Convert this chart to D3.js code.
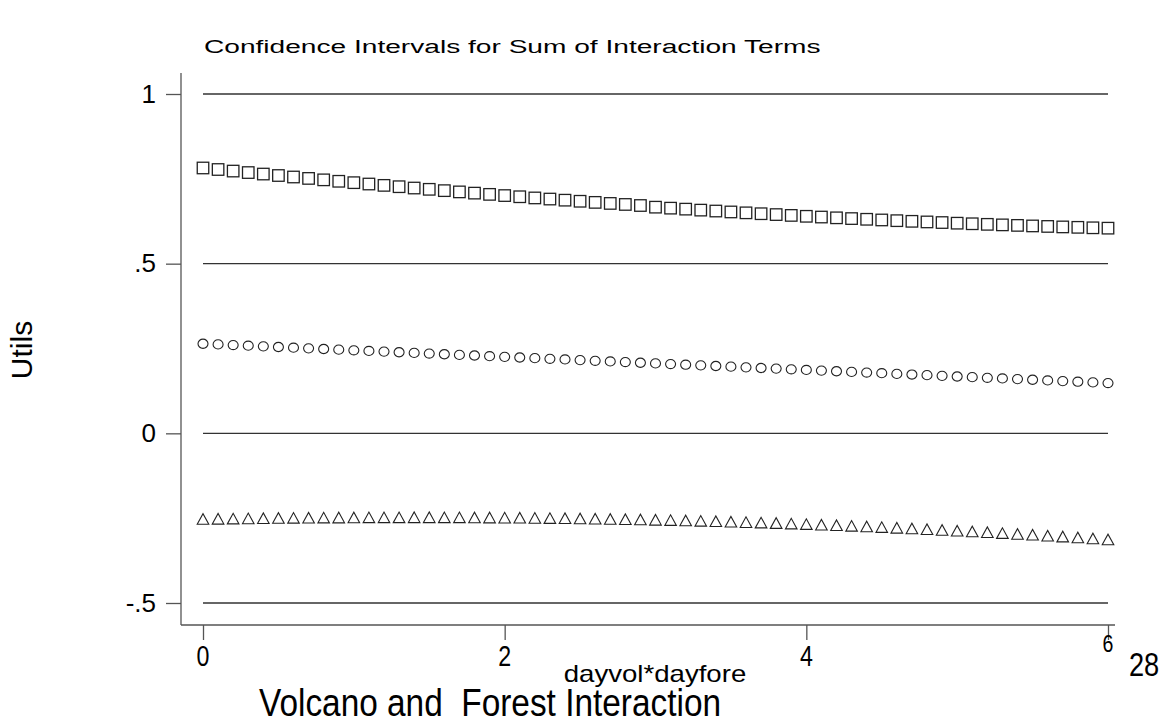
<!DOCTYPE html>
<html>
<head>
<meta charset="utf-8">
<script src="https://cdn.jsdelivr.net/npm/d3@7"></script>
<style>
  html, body { margin: 0; padding: 0; background: #fff; }
  svg { display: block; font-family: "Liberation Sans", Arial, sans-serif; }
</style>
</head>
<body>
<svg id="chart" width="1162" height="725"></svg>
<script>
// ---- data ----
const xValues = d3.range(61).map(i => +(i / 10).toFixed(1)); // dayvol*dayfore grid 0..6 step .1
const upperCI = [
  0.782,0.7775,0.7729,0.7685,0.7641,0.7598,0.7554,0.7512,0.747,0.7428,
  0.7387,0.7347,0.7307,0.7268,0.7229,0.7191,0.7152,0.7115,0.7079,0.7042,
  0.7007,0.6972,0.6937,0.6904,0.6871,0.6839,0.6806,0.6775,0.6745,0.6714,
  0.6665,0.6636,0.6607,0.6578,0.6551,0.6524,0.6498,0.6472,0.6447,0.6422,
  0.6396,0.6374,0.6351,0.6329,0.6308,0.6288,0.6267,0.6248,0.623,0.6212,
  0.6193,0.6176,0.6159,0.6143,0.6128,0.6112,0.6097,0.6083,0.6071,0.6057,
  0.6046
];
const estimate = [
  0.264,0.2621,0.2601,0.2582,0.2563,0.2544,0.2524,0.2505,0.2486,0.2466,
  0.2447,0.2428,0.2408,0.2389,0.237,0.2351,0.2331,0.2312,0.2293,0.2273,
  0.2254,0.2235,0.2215,0.2196,0.2177,0.2158,0.2138,0.2119,0.21,0.208,
  0.2061,0.2042,0.2022,0.2003,0.1984,0.1965,0.1945,0.1926,0.1907,0.1887,
  0.1868,0.1849,0.1829,0.181,0.1791,0.1772,0.1752,0.1733,0.1714,0.1694,
  0.1675,0.1656,0.1636,0.1617,0.1598,0.1579,0.1559,0.154,0.1521,0.1501,
  0.1482
];
const lowerCI = [
  -0.254,-0.2533,-0.2527,-0.2521,-0.2515,-0.251,-0.2506,-0.2502,-0.2498,-0.2496,
  -0.2493,-0.2491,-0.2491,-0.249,-0.2489,-0.2489,-0.249,-0.2491,-0.2493,-0.2496,
  -0.2499,-0.2502,-0.2507,-0.2512,-0.2517,-0.2523,-0.253,-0.2537,-0.2545,-0.2554,
  -0.2563,-0.2572,-0.2584,-0.2594,-0.2606,-0.2618,-0.2632,-0.2645,-0.2659,-0.2675,
  -0.269,-0.2707,-0.2724,-0.2741,-0.2759,-0.2778,-0.2798,-0.2818,-0.2839,-0.2862,
  -0.2883,-0.2906,-0.293,-0.2954,-0.2979,-0.3004,-0.3031,-0.3057,-0.3085,-0.3113,
  -0.3142
];
const yTicks = [-0.5, 0, 0.5, 1];
const yTickLabels = ["-.5", "0", ".5", "1"];
const xTicks = [0, 2, 4, 6];
const xTickLabels = ["0", "2", "4", "6"];

// ---- layout ----
const svg = d3.select("#chart");
const x = d3.scaleLinear().domain([0, 6]).range([203, 1108]);
const y = d3.scaleLinear().domain([-0.5, 1]).range([603, 94]);
const ink = "#222";

// helper: horizontally scaled text
function stretched(g, tx, ty, size, sx, str, anchor) {
  return g.append("text")
    .attr("transform", `translate(${tx},${ty}) scale(${sx},1)`)
    .attr("font-size", size)
    .attr("text-anchor", anchor || "start")
    .attr("fill", "#000")
    .attr("xml:space", "preserve").style("white-space", "pre")
    .text(str);
}

// gridlines at y ticks
svg.append("g").selectAll("line").data(yTicks).join("line")
  .attr("x1", x(0)).attr("x2", x(6))
  .attr("y1", d => y(d)).attr("y2", d => y(d))
  .attr("stroke", "#333").attr("stroke-width", 1.3);

// y axis
const yAxis = d3.axisLeft(y).tickValues(yTicks).tickSize(15).tickFormat((d, i) => yTickLabels[i]).tickSizeOuter(0);
const gy = svg.append("g").attr("transform", "translate(181,0)").call(yAxis);
gy.select(".domain").attr("d", `M0,${73}V${625}`).attr("stroke", "#555").attr("stroke-width", 1.3);
gy.selectAll(".tick line").attr("stroke", "#555").attr("stroke-width", 1.3);
gy.selectAll(".tick text").attr("font-size", 26).attr("fill", "#000").attr("x", -25)
  .attr("font-family", "Liberation Sans, Arial, sans-serif");

// x axis
const xAxis = d3.axisBottom(x).tickValues(xTicks).tickSize(15).tickFormat(() => "").tickSizeOuter(0);
const gx = svg.append("g").attr("transform", "translate(0,625)").call(xAxis);
gx.select(".domain").attr("d", `M181,0H1115`).attr("stroke", "#555").attr("stroke-width", 1.3);
gx.selectAll(".tick line").attr("stroke", "#555").attr("stroke-width", 1.3);

// x tick labels
const gxl = svg.append("g");
xTicks.slice(0, 3).forEach((d, i) => stretched(gxl, x(d), 666, 29, 0.8, xTickLabels[i], "middle"));
stretched(gxl, x(6), 652, 23, 0.85, xTickLabels[3], "middle");
stretched(svg, 1129, 676, 34, 0.8, "28", "start");

// markers
const sq = 11.5;
svg.append("g").selectAll("rect").data(upperCI).join("rect")
  .attr("x", (d, i) => x(xValues[i]) - sq / 2).attr("y", d => y(d) - sq / 2)
  .attr("width", sq).attr("height", sq)
  .attr("fill", "none").attr("stroke", ink).attr("stroke-width", 1.3);

svg.append("g").selectAll("ellipse").data(estimate).join("ellipse")
  .attr("cx", (d, i) => x(xValues[i])).attr("cy", d => y(d))
  .attr("rx", 5).attr("ry", 4.6)
  .attr("fill", "none").attr("stroke", ink).attr("stroke-width", 1.1);

svg.append("g").selectAll("path").data(lowerCI).join("path")
  .attr("transform", (d, i) => `translate(${x(xValues[i])},${y(d)})`)
  .attr("d", "M-5.8,4.8L0,-5.8L5.8,4.8Z")
  .attr("fill", "none").attr("stroke", ink).attr("stroke-width", 1.1);

// titles
stretched(svg, 204, 53, 19, 1.48, "Confidence Intervals for Sum of Interaction Terms", "start");

svg.append("text").attr("transform", "translate(32,350) rotate(-90)")
  .attr("text-anchor", "middle").attr("font-size", 30).attr("fill", "#000")
  .text("Utils");

stretched(svg, 655, 682, 23, 1.2, "dayvol*dayfore", "middle");

stretched(svg, 490, 716, 39, 0.856, "Volcano and  Forest Interaction", "middle");
</script>
</body>
</html>
